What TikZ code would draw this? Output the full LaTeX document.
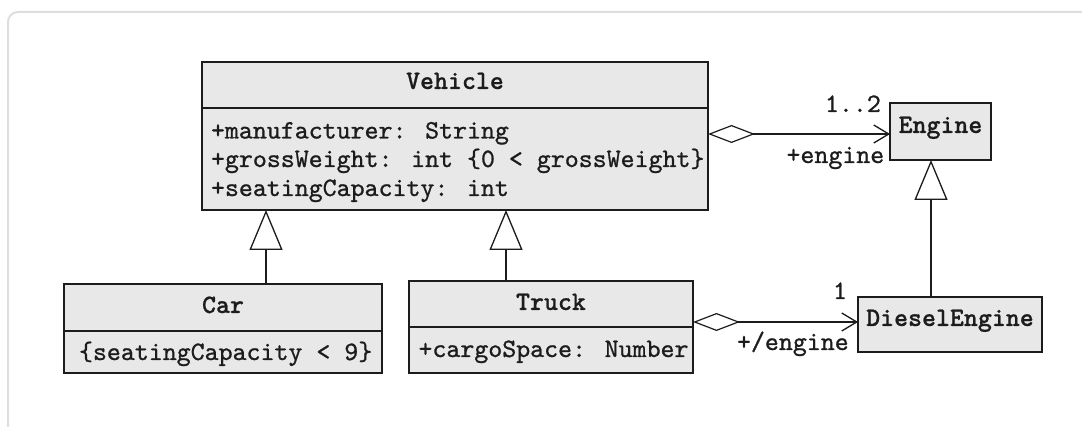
\documentclass[tikz,border=0pt]{standalone}
\usepackage{fontspec}
\newfontfamily\attrfont{lmmono10-regular.otf}[FakeBold=0.9]
\newfontfamily\namefont{lmmonolt10-bold.otf}[FakeBold=0.6]
\usetikzlibrary{arrows.meta}
\definecolor{boxfill}{HTML}{E8E8E8}
\definecolor{frameline}{HTML}{DEDEDE}
\definecolor{ink}{HTML}{1C1C1C}
\begin{document}
\begin{tikzpicture}[x=1pt,y=-1pt,
  every node/.style={font=\attrfont\fontsize{26.6}{30}\selectfont, text=ink, inner sep=0pt, outer sep=0pt},
  classname/.style={anchor=base, font=\namefont\fontsize{26.6}{30}\selectfont},
  classbox/.style={draw=ink, fill=boxfill, line width=1.6pt, rectangle},
  divider/.style={draw=ink, line width=1.6pt},
  generalize/.style={draw=ink, line width=1.5pt, -{Triangle[length=40pt,width=33pt,fill=white,line width=1.3pt]}},
  aggregate/.style={draw=ink, line width=1.5pt,
    {Diamond[open,length=47pt,width=18pt,line width=1.2pt]}-{Straight Barb[length=15pt,width=18pt,line width=1.3pt]}},
  rolelabel/.style={anchor=base west}
]
\useasboundingbox (0,0) rectangle (1082,427);

% page frame, cut by the right and bottom edges
\draw[frameline, line width=2pt, rounded corners=10pt] (1082,12) -- (8,12) -- (8,427);

% class boxes
\node[classbox, minimum width=506pt, minimum height=148pt] (vehicle) at (455,136) {};
\node[classbox, minimum width=318pt, minimum height=89pt] (car) at (223,328.5) {};
\node[classbox, minimum width=284pt, minimum height=92pt] (truck) at (551,327) {};
\node[classbox, minimum width=101pt, minimum height=57pt] (engine) at (940.5,131.5) {};
\node[classbox, minimum width=184pt, minimum height=55pt] (diesel) at (950,324.5) {};

% compartment dividers
\coordinate (vdiv) at (0,108);
\coordinate (cdiv) at (0,331);
\coordinate (tdiv) at (0,327);
\draw[divider] (vehicle.west |- vdiv) -- (vehicle.east |- vdiv);
\draw[divider] (car.west |- cdiv) -- (car.east |- cdiv);
\draw[divider] (truck.west |- tdiv) -- (truck.east |- tdiv);

% class names
\node[classname] (vehicle-name) at (455,89) {Vehicle};
\node[classname] (car-name) at (223,313) {Car};
\node[classname] (truck-name) at (551,310) {Truck};
\node[classname] (engine-name) at (940.5,133) {Engine};
\node[classname] (diesel-name) at (950,326) {DieselEngine};

% attributes and constraints
\node[anchor=base west] (vehicle-a1) at (211,138.5) {+manufacturer: String};
\node[anchor=base west] (vehicle-a2) at (211,167) {+grossWeight: int \{0 < grossWeight\}};
\node[anchor=base west] (vehicle-a3) at (211,196) {+seatingCapacity: int};
\node[anchor=base west] (car-c1) at (79,360) {\{seatingCapacity < 9\}};
\node[anchor=base west] (truck-a1) at (418.5,357) {+cargoSpace: Number};

% generalizations
\coordinate (gcar) at (266,0);
\coordinate (gtruck) at (506,0);
\coordinate (gdiesel) at (931,0);
\draw[generalize] (car.north -| gcar) -- (vehicle.south -| gcar);
\draw[generalize] (truck.north -| gtruck) -- (vehicle.south -| gtruck);
\draw[generalize] (diesel.north -| gdiesel) -- (engine.south -| gdiesel);

% aggregations
\coordinate (aveh) at (0,134);
\coordinate (atruck) at (0,322);
\draw[aggregate] (vehicle.east |- aveh) -- (engine.west |- aveh);
\draw[aggregate] (truck.east |- atruck) -- (diesel.west |- atruck);

% association end labels
\node[rolelabel] (mult-engine) at (825,112) {1..2};
\node[rolelabel] (role-engine) at (786.5,163) {+engine};
\node[rolelabel] (mult-diesel) at (833,299) {1};
\node[rolelabel] (role-diesel) at (737,350) {+/engine};
\end{tikzpicture}
\end{document}
